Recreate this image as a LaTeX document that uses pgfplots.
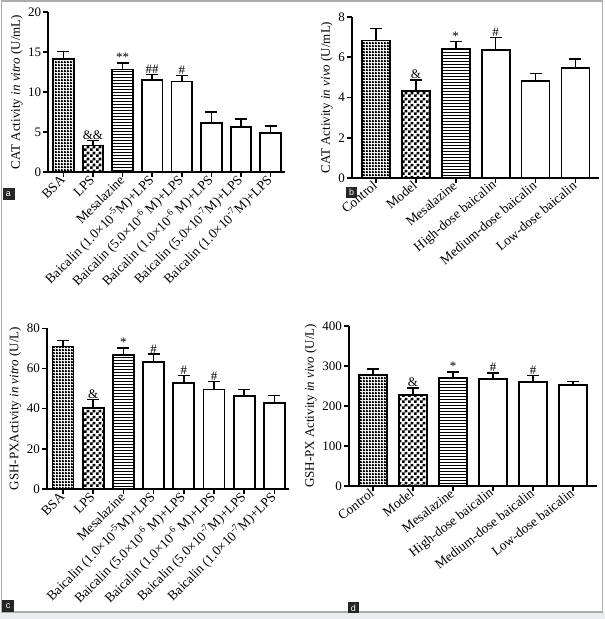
\documentclass[border=0pt]{standalone}
\usepackage{fontspec}
\setmainfont{Liberation Serif}
\setsansfont{Liberation Sans}
\usepackage{pgfplots}
\pgfplotsset{compat=1.18}
\usetikzlibrary{patterns}
\definecolor{stripbg}{RGB}{232,236,243}

\pgfdeclarepatternformonly{mygrid}{\pgfpointorigin}{\pgfqpoint{2.5pt}{2.5pt}}{\pgfqpoint{2.5pt}{2.5pt}}{%
  \pgfpathrectangle{\pgfpointorigin}{\pgfqpoint{2.5pt}{1.5pt}}%
  \pgfpathrectangle{\pgfpointorigin}{\pgfqpoint{1.5pt}{2.5pt}}%
  \pgfusepath{fill}}
\pgfdeclarepatternformonly{mycheck}{\pgfpointorigin}{\pgfqpoint{6pt}{6pt}}{\pgfqpoint{6pt}{6pt}}{%
  \pgfpathrectangle{\pgfpointorigin}{\pgfqpoint{3pt}{3pt}}%
  \pgfpathrectangle{\pgfqpoint{3pt}{3pt}}{\pgfqpoint{3pt}{3pt}}%
  \pgfusepath{fill}}
\pgfdeclarepatternformonly{myhlines}{\pgfpointorigin}{\pgfqpoint{100pt}{2.7pt}}{\pgfqpoint{100pt}{2.7pt}}{%
  \pgfpathrectangle{\pgfpointorigin}{\pgfqpoint{100pt}{1.1pt}}%
  \pgfusepath{fill}}

\newcommand{\panelfont}{\fontsize{13}{15}\selectfont}
\newcommand{\catfont}{\fontsize{13.5}{15}\selectfont}

\pgfplotsset{
  panel/.style={
    scale only axis,
    axis lines=left,
    axis line style={-, line width=1.8pt, black},
    tick align=outside,
    major tick length=5pt,
    tick style={black, line width=1.6pt},
    ymin=0,
    clip=false,
    bar width=0.7,
    /pgf/number format/assume math mode=true,
    y tick label style={font=\panelfont, inner sep=2pt},
    x tick label style={font=\catfont, rotate=45, anchor=east, inner sep=1pt},
    every axis y label/.append style={font=\panelfont},
  },
  mybar/.style={ybar, bar shift=0pt, draw=black, line width=1.8pt,
    error bars/y dir=plus, error bars/y explicit,
    error bars/error bar style={line width=1.6pt, black},
    error bars/error mark options={rotate=90, line width=1.6pt, mark size=6pt, black}},
  anno/.style={draw=none, mark=none, nodes near coords, point meta=explicit symbolic,
    nodes near coords style={anchor=south, inner sep=1pt, font=\panelfont, text=black}},
}

\begin{document}
\begin{tikzpicture}
\useasboundingbox (0pt,0pt) rectangle (605pt,619pt);
\fill[stripbg] (0pt,0pt) rectangle (605pt,6.5pt);
\draw[gray!65, line width=1.2pt] (1.5pt,7pt) rectangle (602.5pt,618pt);

% ---------------- panel a ----------------
\begin{axis}[panel, at={(48.3pt,447pt)}, anchor=south west,
  width=237.1pt, height=160pt, xmin=-0.51, xmax=7.5, ymax=20,
  ytick={0,5,10,15,20},
  xtick={0,...,7},
  xticklabels={BSA, LPS, Mesalazine,
    {Baicalin (1.0×10\textsuperscript{-5}M)+LPS},
    {Baicalin (5.0×10\textsuperscript{-6} M)+LPS},
    {Baicalin (1.0×10\textsuperscript{-6} M)+LPS},
    {Baicalin (5.0×10\textsuperscript{-7}M)+LPS},
    {Baicalin (1.0×10\textsuperscript{-7}M)+LPS}},
  ylabel={CAT Activity \textit{in vitro} (U/mL)}]
\addplot[mybar, pattern=mygrid, pattern color=black] coordinates {(0,14.15) +- (0,0.9)};
\addplot[mybar, pattern=mycheck, pattern color=black] coordinates {(1,3.3) +- (0,0.63)};
\addplot[mybar, pattern=myhlines, pattern color=black] coordinates {(2,12.8) +- (0,0.82)};
\addplot[mybar, fill=white] coordinates {(3,11.45) +- (0,0.75) (4,11.3) +- (0,0.78) (5,6.12) +- (0,1.4) (6,5.58) +- (0,1.08) (7,4.83) +- (0,0.92)};
\addplot[anno] coordinates {(1,3.95) [\&\&] (2,13.62) [**] (3,12.2) [\#\#] (4,12.08) [\#]};
\end{axis}

% ---------------- panel b ----------------
\begin{axis}[panel, at={(352pt,441pt)}, anchor=south west,
  width=247.4pt, height=161pt, xmin=-0.6, xmax=5.6, ymax=8,
  ytick={0,2,4,6,8},
  xtick={0,...,5},
  x tick label style={rotate=-5},
  xticklabels={Control, Model, Mesalazine, High-dose baicalin, Medium-dose baicalin, Low-dose baicalin},
  ylabel={CAT Activity \textit{in vivo} (U/mL)}]
\addplot[mybar, pattern=mygrid, pattern color=black] coordinates {(0,6.83) +- (0,0.59)};
\addplot[mybar, pattern=mycheck, pattern color=black] coordinates {(1,4.33) +- (0,0.54)};
\addplot[mybar, pattern=myhlines, pattern color=black] coordinates {(2,6.4) +- (0,0.38)};
\addplot[mybar, fill=white] coordinates {(3,6.35) +- (0,0.64) (4,4.8) +- (0,0.4) (5,5.45) +- (0,0.47)};
\addplot[anno] coordinates {(1,4.87) [\&] (2,6.78) [*] (3,6.99) [\#]};
\end{axis}

% ---------------- panel c ----------------
\begin{axis}[panel, at={(47pt,130pt)}, anchor=south west,
  width=242.5pt, height=160.7pt, xmin=-0.53, xmax=7.5, ymax=80,
  ytick={0,20,40,60,80},
  xtick={0,...,7},
  xticklabels={BSA, LPS, Mesalazine,
    {Baicalin (1.0×10\textsuperscript{-5}M)+LPS},
    {Baicalin (5.0×10\textsuperscript{-6} M)+LPS},
    {Baicalin (1.0×10\textsuperscript{-6} M)+LPS},
    {Baicalin (5.0×10\textsuperscript{-7}M)+LPS},
    {Baicalin (1.0×10\textsuperscript{-7}M)+LPS}},
  ylabel={GSH-PXActivity \textit{in vitro} (U/L)}]
\addplot[mybar, pattern=mygrid, pattern color=black] coordinates {(0,70.9) +- (0,3.0)};
\addplot[mybar, pattern=mycheck, pattern color=black] coordinates {(1,40.5) +- (0,4.1)};
\addplot[mybar, pattern=myhlines, pattern color=black] coordinates {(2,66.7) +- (0,3.5)};
\addplot[mybar, fill=white] coordinates {(3,63.2) +- (0,3.9) (4,52.6) +- (0,4.0) (5,49.5) +- (0,4.0) (6,46.3) +- (0,3.3) (7,42.7) +- (0,3.9)};
\addplot[anno] coordinates {(1,44.6) [\&] (2,70.2) [*] (3,67.1) [\#] (4,56.6) [\#] (5,53.5) [\#]};
\end{axis}

% ---------------- panel d ----------------
\begin{axis}[panel, at={(349pt,133pt)}, anchor=south west,
  width=248pt, height=160pt, xmin=-0.6, xmax=5.6, ymax=400,
  ytick={0,100,200,300,400},
  xtick={0,...,5},
  x tick label style={rotate=-7},
  xticklabels={Control, Model, Mesalazine, High-dose baicalin, Medium-dose baicalin, Low-dose baicalin},
  ylabel={GSH-PX Activity \textit{in vivo} (U/L)}]
\addplot[mybar, pattern=mygrid, pattern color=black] coordinates {(0,277.5) +- (0,15)};
\addplot[mybar, pattern=mycheck, pattern color=black] coordinates {(1,227.5) +- (0,18)};
\addplot[mybar, pattern=myhlines, pattern color=black] coordinates {(2,270) +- (0,15)};
\addplot[mybar, fill=white] coordinates {(3,267.5) +- (0,15) (4,260.5) +- (0,16) (5,252.5) +- (0,9)};
\addplot[anno] coordinates {(1,245.5) [\&] (2,285) [*] (3,282.5) [\#] (4,276.5) [\#]};
\end{axis}

% panel letters
\node[fill=black!85, text=white, font=\sffamily\fontsize{9}{10}\selectfont, minimum size=12pt, inner sep=0pt] at (8.5pt,425pt) {a};
\node[fill=black!85, text=white, font=\sffamily\fontsize{9}{10}\selectfont, minimum size=11pt, inner sep=0pt] at (351.7pt,426.5pt) {b};
\node[fill=black!85, text=white, font=\sffamily\fontsize{9}{10}\selectfont, minimum size=12pt, inner sep=0pt] at (8pt,13pt) {c};
\node[fill=black!85, text=white, font=\sffamily\fontsize{9}{10}\selectfont, minimum size=11pt, inner sep=0pt] at (353.5pt,11pt) {d};
\end{tikzpicture}
\end{document}
